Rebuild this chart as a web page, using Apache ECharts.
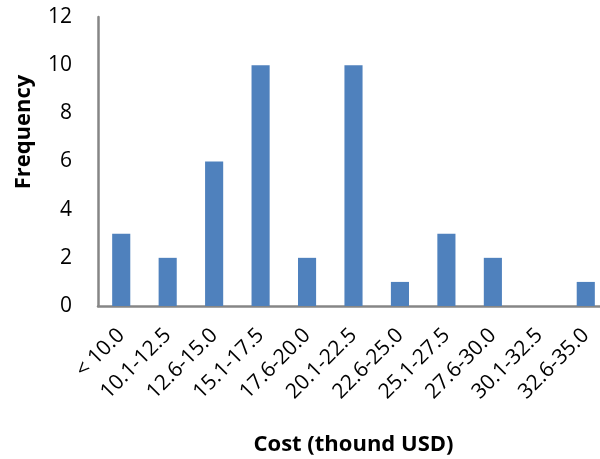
<!DOCTYPE html>
<html>
<head>
<meta charset="utf-8">
<script src="https://cdn.jsdelivr.net/npm/echarts@6/dist/echarts.min.js"></script>
<style>
  html, body { margin: 0; padding: 0; background: #fff; }
  #chart { width: 600px; height: 459px; }
</style>
</head>
<body>
<div id="chart"></div>
<script>
// Cost bins (thousand USD) and how many items fall into each
const costBins = ['< 10.0', '10.1-12.5', '12.6-15.0', '15.1-17.5', '17.6-20.0',
  '20.1-22.5', '22.6-25.0', '25.1-27.5', '27.6-30.0', '30.1-32.5', '32.6-35.0'];
const frequency = [3, 2, 6, 10, 2, 10, 1, 3, 2, 0, 1];
const yTicks = [0, 2, 4, 6, 8, 10, 12];

const FONT = '"Open Sans", Lato, sans-serif';
const chart = echarts.init(document.getElementById('chart'));

chart.setOption({
  animation: false,
  grid: { left: 98, top: 17, width: 511, height: 289, containLabel: false, outerBoundsMode: 'none' },
  xAxis: {
    type: 'category',
    data: costBins,
    axisLine: { lineStyle: { color: '#868686', width: 2.5 } },
    axisTick: { show: false },
    axisLabel: { rotate: 45, margin: 26, color: '#000', fontSize: 21, fontFamily: FONT, interval: 0 },
    name: 'Cost (thound USD)',
    nameLocation: 'middle',
    nameGap: 128,
    nameTextStyle: { fontSize: 22, fontWeight: 'bold', color: '#000', fontFamily: FONT }
  },
  yAxis: {
    type: 'value',
    min: yTicks[0],
    max: yTicks[yTicks.length - 1],
    interval: 2,
    splitLine: { show: false },
    axisLine: { show: true, lineStyle: { color: '#868686', width: 2.5 } },
    axisTick: { show: false },
    axisLabel: { margin: 26, color: '#000', fontSize: 21, fontFamily: FONT }
  },
  graphic: [{
    type: 'text',
    x: 24, y: 132,
    rotation: Math.PI / 2,
    style: {
      text: 'Frequency',
      font: 'bold 22px ' + FONT,
      fill: '#000',
      align: 'center',
      verticalAlign: 'middle'
    }
  }],
  series: [{
    type: 'bar',
    data: frequency,
    barWidth: '39%',
    itemStyle: { color: '#4F81BD' }
  }]
});
</script>
</body>
</html>
